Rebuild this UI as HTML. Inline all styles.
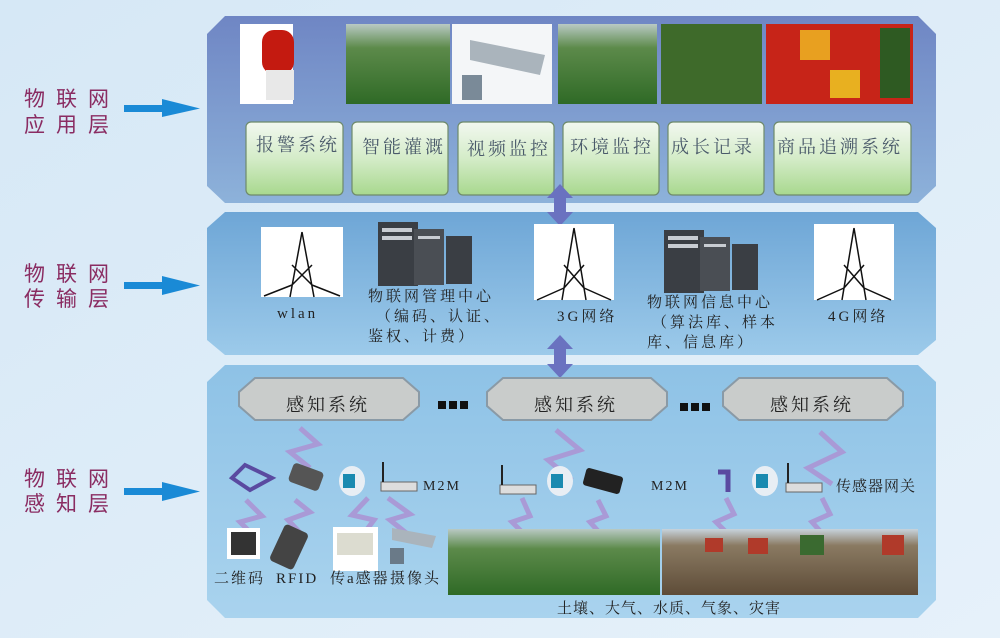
<!DOCTYPE html>
<html><head><meta charset="utf-8"><style>
body{margin:0;width:1000px;height:638px;overflow:hidden;font-family:"Liberation Sans","Noto Sans CJK SC",sans-serif}
</style></head><body>
<svg width="1000" height="638" viewBox="0 0 1000 638" xmlns="http://www.w3.org/2000/svg" font-family="Liberation Serif, Noto Serif CJK SC, serif">
<defs>
<linearGradient id="bg" x1="0" y1="0" x2="1" y2="1"><stop offset="0" stop-color="#d6e8f6"/><stop offset="1" stop-color="#e6f1fa"/></linearGradient>
<linearGradient id="top" x1="0" y1="0" x2="0" y2="1"><stop offset="0" stop-color="#6f86c4"/><stop offset="1" stop-color="#8db2da"/></linearGradient>
<linearGradient id="mid" x1="0" y1="0" x2="0" y2="1"><stop offset="0" stop-color="#6ea6d6"/><stop offset="1" stop-color="#9ccaea"/></linearGradient>
<linearGradient id="bot" x1="0" y1="0" x2="0" y2="1"><stop offset="0" stop-color="#8ec2e6"/><stop offset="1" stop-color="#a9d3ee"/></linearGradient>
<linearGradient id="btn" x1="0" y1="0" x2="0" y2="1"><stop offset="0" stop-color="#f2f8f0"/><stop offset="0.5" stop-color="#d4ecc8"/><stop offset="1" stop-color="#a8d88e"/></linearGradient>
<linearGradient id="grn" x1="0" y1="0" x2="0" y2="1"><stop offset="0" stop-color="#b9c9c4"/><stop offset="0.3" stop-color="#5c8a4a"/><stop offset="1" stop-color="#2f6a26"/></linearGradient>
<linearGradient id="soil" x1="0" y1="0" x2="0" y2="1"><stop offset="0" stop-color="#c7d3dc"/><stop offset="0.25" stop-color="#8a7a62"/><stop offset="1" stop-color="#5e4c38"/></linearGradient>
</defs>
<rect width="1000" height="638" fill="url(#bg)"/>
<polygon points="225,16 918,16 936,34 936,186 918,203 225,203 207,186 207,34" fill="url(#top)"/>
<polygon points="225,212 918,212 936,228 936,340 918,355 225,355 207,340 207,228" fill="url(#mid)"/>
<polygon points="225,365 918,365 936,382 936,600 918,618 225,618 207,600 207,382" fill="url(#bot)"/>
<g fill="#8a2c62" font-family="Liberation Sans, Noto Sans CJK SC, sans-serif" font-size="21" letter-spacing="11">
<text x="24" y="106">物联网</text><text x="24" y="132">应用层</text>
<text x="24" y="281">物联网</text><text x="24" y="306">传输层</text>
<text x="24" y="486">物联网</text><text x="24" y="511">感知层</text>
</g>
<g fill="#1a8ad6">
<rect x="124" y="105" width="40" height="7"/><polygon points="162,99 200,108.5 162,117"/>
<rect x="124" y="282" width="40" height="7"/><polygon points="162,276 200,285.5 162,295"/>
<rect x="124" y="488" width="40" height="7"/><polygon points="162,482 200,491.5 162,501"/>
</g>
<rect x="240" y="24" width="53" height="80" fill="#fff"/>
<rect x="262" y="30" width="32" height="44" rx="12" fill="#c41a10"/><rect x="266" y="70" width="28" height="30" fill="#e8e8e8"/>
<rect x="346" y="24" width="104" height="80" fill="url(#grn)"/>
<rect x="452" y="24" width="100" height="80" fill="#f4f6f8"/>
<polygon points="470,40 545,55 540,75 470,60" fill="#aab4bc"/><rect x="462" y="75" width="20" height="25" fill="#7a8a98"/>
<rect x="558" y="24" width="99" height="80" fill="url(#grn)"/>
<rect x="661" y="24" width="101" height="80" fill="#3e6a2a"/>
<rect x="766" y="24" width="147" height="80" fill="#c72418"/>
<rect x="800" y="30" width="30" height="30" fill="#e8a020"/><rect x="880" y="28" width="30" height="70" fill="#2e5a22"/><rect x="830" y="70" width="30" height="28" fill="#e8b020"/>
<g stroke="#6e8a6a" stroke-width="1.2" fill="url(#btn)">
<rect x="246" y="122" width="97" height="73" rx="5"/><rect x="352" y="122" width="96" height="73" rx="5"/>
<rect x="458" y="122" width="96" height="73" rx="5"/><rect x="563" y="122" width="96" height="73" rx="5"/>
<rect x="668" y="122" width="96" height="73" rx="5"/><rect x="774" y="122" width="137" height="73" rx="5"/>
</g>
<g fill="#4a5a6a" font-size="18" letter-spacing="3">
<text x="256" y="151">报警系统</text><text x="362" y="153">智能灌溉</text><text x="467" y="155">视频监控</text>
<text x="570" y="153">环境监控</text><text x="671" y="153">成长记录</text><text x="777" y="153">商品追溯系统</text>
</g>
<g fill="#6a72c0">
<polygon points="560,184 573,198 566,198 566,212 573,212 560,226 547,212 554,212 554,198 547,198"/>
<polygon points="560,335 573,349 566,349 566,364 573,364 560,378 547,364 554,364 554,349 547,349"/>
</g>
<rect x="261" y="227" width="82" height="70" fill="#fff"/>
<rect x="534" y="224" width="80" height="76" fill="#fff"/>
<rect x="814" y="224" width="80" height="76" fill="#fff"/>
<g stroke="#111" stroke-width="1.5" fill="none">
<path d="M302,232 L290,297 M302,232 L314,297 M264,296 L292,285 M340,296 L312,285 M292,265 L312,285 M312,265 L292,285"/>
<path d="M574,228 L562,300 M574,228 L586,300 M537,300 L564,288 M611,300 L584,288 M564,265 L584,288 M584,265 L564,288"/>
<path d="M854,228 L842,300 M854,228 L866,300 M817,300 L844,288 M891,300 L864,288 M844,265 L864,288 M864,265 L844,288"/>
</g>
<rect x="378" y="222" width="40" height="64" fill="#3a3e44"/><rect x="414" y="229" width="30" height="56" fill="#4a4e54"/><rect x="446" y="236" width="26" height="48" fill="#3a3e44"/>
<rect x="664" y="230" width="40" height="63" fill="#3a3e44"/><rect x="700" y="237" width="30" height="54" fill="#4a4e54"/><rect x="732" y="244" width="26" height="46" fill="#3a3e44"/>
<g fill="#c8ccd2"><rect x="382" y="228" width="30" height="4"/><rect x="382" y="236" width="30" height="4"/><rect x="418" y="236" width="22" height="3"/><rect x="668" y="236" width="30" height="4"/><rect x="668" y="244" width="30" height="4"/><rect x="704" y="244" width="22" height="3"/></g>
<g fill="#222" font-size="15" letter-spacing="3">
<text x="277" y="318">wlan</text>
<text x="368" y="301">物联网管理中心</text><text x="376" y="321">（编码、认证、</text><text x="368" y="341">鉴权、计费）</text>
<text x="557" y="321">3G网络</text>
<text x="647" y="307">物联网信息中心</text><text x="652" y="327">（算法库、样本</text><text x="647" y="347">库、信息库）</text>
<text x="828" y="321">4G网络</text>
</g>
<g fill="#c9cccb" stroke="#8a9aa6" stroke-width="2">
<polygon points="255,378 403,378 419,392 419,406 403,420 255,420 239,406 239,392"/>
<polygon points="503,378 651,378 667,392 667,406 651,420 503,420 487,406 487,392"/>
<polygon points="739,378 887,378 903,392 903,406 887,420 739,420 723,406 723,392"/>
</g>
<g fill="#222" font-size="18" letter-spacing="3">
<text x="286" y="411">感知系统</text><text x="534" y="411">感知系统</text><text x="770" y="411">感知系统</text>
</g>
<g fill="#111"><rect x="438" y="401" width="8" height="8"/><rect x="449" y="401" width="8" height="8"/><rect x="460" y="401" width="8" height="8"/>
<rect x="680" y="403" width="8" height="8"/><rect x="691" y="403" width="8" height="8"/><rect x="702" y="403" width="8" height="8"/></g>
<g fill="none" stroke="#a99ad6" stroke-width="5" stroke-linejoin="miter">
<polyline points="300,428 318,444 290,452 310,468"/>
<polyline points="556,430 580,450 548,460 572,480"/>
<polyline points="820,432 842,452 808,468 832,484"/>
<polyline points="246,500 262,516 240,522 256,538"/>
<polyline points="295,500 310,512 288,520 305,538"/>
<polyline points="368,498 352,515 374,520 362,536"/>
<polyline points="388,498 410,514 390,520 410,536"/>
<polyline points="522,498 530,516 512,522 528,538"/>
<polyline points="598,500 606,516 590,522 606,540"/>
<polyline points="726,498 734,514 716,522 734,540"/>
<polyline points="822,498 830,514 812,522 828,540"/>
</g>
<polygon points="245,465 272,478 250,490 232,478" fill="none" stroke="#5a4aa0" stroke-width="4"/>
<rect x="290" y="467" width="32" height="20" rx="4" fill="#555" transform="rotate(20 306 477)"/>
<g fill="#1a8ab0"><ellipse cx="352" cy="481" rx="13" ry="15" fill="#e8eef4"/><rect x="343" y="474" width="12" height="14"/></g>
<g fill="#ddd" stroke="#666"><rect x="381" y="482" width="36" height="9"/><rect x="500" y="485" width="36" height="9"/><rect x="786" y="483" width="36" height="9"/></g>
<g stroke="#222" stroke-width="2"><line x1="383" y1="482" x2="383" y2="462"/><line x1="502" y1="485" x2="502" y2="465"/><line x1="788" y1="483" x2="788" y2="463"/></g>
<g fill="#1a8ab0"><ellipse cx="560" cy="481" rx="13" ry="15" fill="#e8eef4"/><rect x="551" y="474" width="12" height="14"/>
<ellipse cx="765" cy="481" rx="13" ry="15" fill="#e8eef4"/><rect x="756" y="474" width="12" height="14"/></g>
<rect x="584" y="472" width="38" height="18" rx="3" fill="#222" transform="rotate(15 603 481)"/>
<path d="M718,472 L728,472 L728,492" fill="none" stroke="#5a4aa0" stroke-width="5"/>
<g fill="#222" font-size="14" letter-spacing="2">
<text x="423" y="490">M2M</text><text x="651" y="490">M2M</text>
<text x="836" y="491" font-size="15" letter-spacing="1">传感器网关</text>
</g>
<rect x="227" y="528" width="33" height="31" fill="#fff"/><rect x="231" y="532" width="25" height="23" fill="#333"/>
<rect x="276" y="527" width="26" height="40" rx="4" fill="#444" transform="rotate(25 289 547)"/>
<rect x="333" y="527" width="45" height="44" fill="#fff"/><rect x="337" y="533" width="36" height="22" fill="#dcdcd0"/>
<polygon points="392,528 436,536 432,548 392,540" fill="#aab4bc"/><rect x="390" y="548" width="14" height="16" fill="#6a7a88"/>
<rect x="448" y="529" width="212" height="66" fill="url(#grn)"/>
<rect x="662" y="529" width="256" height="66" fill="url(#soil)"/>
<g fill="#b03a2a"><rect x="705" y="538" width="18" height="14"/><rect x="748" y="538" width="20" height="16"/><rect x="882" y="535" width="22" height="20"/></g><rect x="800" y="535" width="24" height="20" fill="#3a6a30"/>
<g fill="#222" font-size="15" letter-spacing="2">
<text x="214" y="583">二维码</text><text x="276" y="583">RFID</text><text x="330" y="583">传a感器</text><text x="390" y="583">摄像头</text>
<text x="557" y="613" letter-spacing="1">土壤、大气、水质、气象、灾害</text>
</g>
</svg>
</body></html>
